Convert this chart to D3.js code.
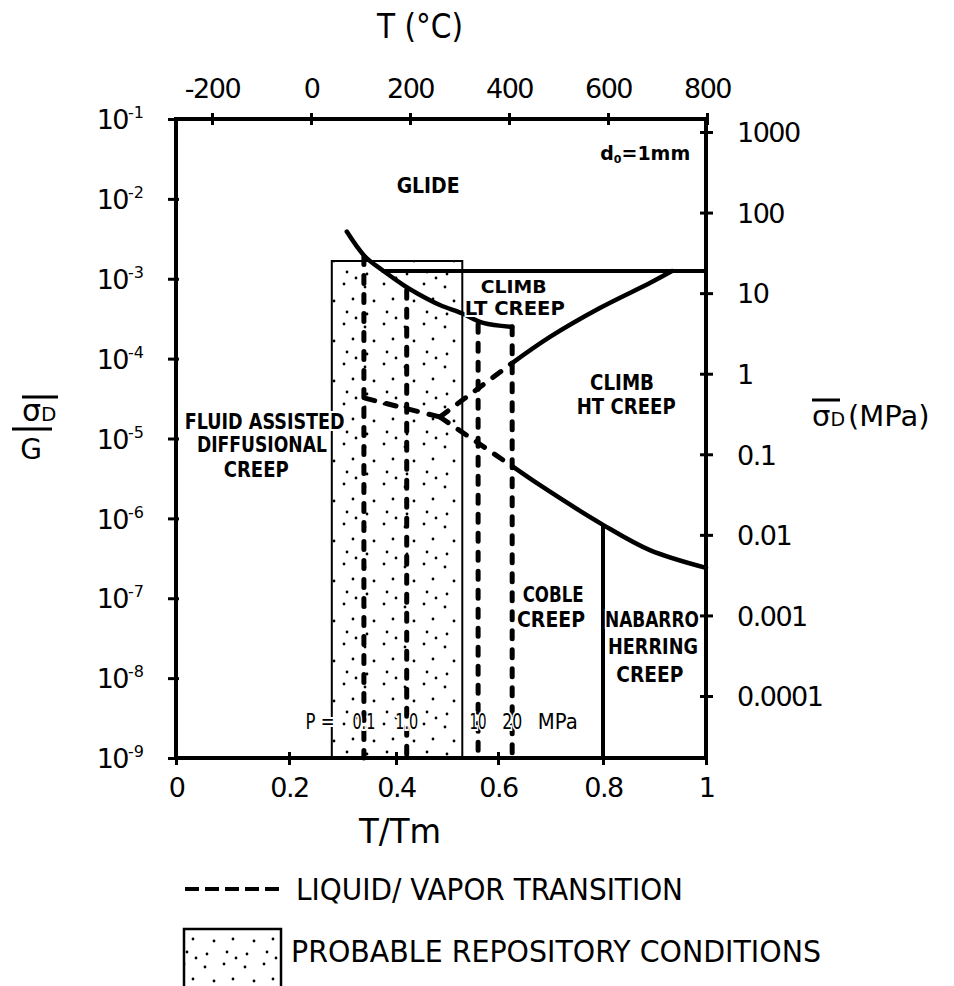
<!DOCTYPE html>
<html>
<head>
<meta charset="utf-8">
<script src="https://cdn.jsdelivr.net/npm/d3@7"></script>
<style>
  body { margin: 0; background: #fff; }
  svg text { font-family: "DejaVu Sans", sans-serif; fill: #000; }
</style>
</head>
<body>
<svg id="chart" width="954" height="986"></svg>
<script>
// axes: x = T/Tm, y = sigma_D / G (log)
const xTicks = [0, 0.2, 0.4, 0.6, 0.8, 1];
const xTickLabels = ["0", "0.2", "0.4", "0.6", "0.8", "1"];
const tempTicks = [-200, 0, 200, 400, 600, 800];
const yTicks = [1e-9, 1e-8, 1e-7, 1e-6, 1e-5, 1e-4, 1e-3, 1e-2, 1e-1];
const yExponents = ["-9", "-8", "-7", "-6", "-5", "-4", "-3", "-2", "-1"];
const mpaTicks = [1000, 100, 10, 1, 0.1, 0.01, 0.001, 0.0001];
const mpaLabels = ["1000", "100", "10", "1", "0.1", "0.01", "0.001", "0.0001"];

// field boundaries [T/Tm, sigma/G]
const glideCurve = [[0.308, 3.9e-3], [0.342, 1.9e-3], [0.376, 1.26e-3], [0.414, 8.4e-4],
  [0.441, 6.6e-4], [0.486, 4.7e-4], [0.529, 3.7e-4], [0.571, 2.8e-4], [0.627, 2.5e-4]];
const glideLimit = [[0.376, 1.25e-3], [1.0, 1.25e-3]];
const climbBoundary = [[0.627, 8.8e-5], [0.699, 1.87e-4], [0.794, 4.3e-4], [0.891, 8.85e-4], [0.934, 1.25e-3]];
const diffBoundary = [[0.627, 4.5e-6], [0.680, 2.6e-6], [0.8, 8.3e-7], [0.891, 4.0e-7], [1.0, 2.4e-7]];
const nhBoundary = [[0.8, 8.3e-7], [0.8, 1e-9]];
const fluidLeft = [[0.342, 3.2e-5], [0.486, 1.86e-5]];
const fluidUp = [[0.486, 1.86e-5], [0.627, 8.8e-5]];
const fluidDown = [[0.486, 1.86e-5], [0.627, 4.5e-6]];

// liquid/vapor transition at pressure P
const pressures = ["0.1", "1.0", "10", "20"];
const transitionX = [0.340, 0.421, 0.561, 0.627];
const transitionTop = [1.9e-3, 7.2e-4, 2.7e-4, 2.5e-4];

// probable repository conditions
const repositoryX = [0.28, 0.53];
const repositoryTop = 1.67e-3;

const labelText = ["GLIDE", "CLIMB", "LT CREEP", "CLIMB", "HT CREEP", "FLUID ASSISTED", "DIFFUSIONAL",
  "CREEP", "COBLE", "CREEP", "NABARRO", "HERRING", "CREEP"];
const labelTm = [0.463, 0.630, 0.632, 0.837, 0.845, 0.157, 0.152, 0.142, 0.705, 0.701, 0.895, 0.897, 0.891];
const labelStress = [1.19e-2, 6.6e-4, 3.5e-4, 4.0e-5, 2.0e-5, 1.31e-5, 6.8e-6, 3.3e-6,
  9.0e-8, 4.4e-8, 4.4e-8, 2.0e-8, 9.0e-9];

const svg = d3.select("#chart");

// hand drawn x axis is slightly uneven, so the scale follows the drawn ticks
const x = d3.scaleLinear().domain(xTicks).range([176, 289, 396, 498, 603, 706]);
const xTemp = d3.scaleLinear().domain([-200, 800]).range([212, 707]);
const y = d3.scaleLog().domain([1e-9, 1e-1]).range([758, 119]);
const yMpa = d3.scaleLog().domain([1e-4, 1e3]).range([696, 132]);

const defs = svg.append("defs");
const stipple = defs.append("pattern")
  .attr("id", "stipple")
  .attr("patternUnits", "userSpaceOnUse")
  .attr("width", 40).attr("height", 40);
[[5, 7], [24, 4], [14, 21], [33, 19], [7, 34], [27, 32], [36, 38]].forEach(p => {
  stipple.append("circle").attr("cx", p[0]).attr("cy", p[1]).attr("r", 1.4).attr("fill", "#000");
});

// repository box
const rx0 = x(repositoryX[0]), rx1 = x(repositoryX[1]);
const ry0 = y(repositoryTop), ry1 = y(1e-9);
svg.append("rect")
  .attr("x", rx0).attr("y", ry0)
  .attr("width", rx1 - rx0).attr("height", ry1 - ry0)
  .attr("fill", "url(#stipple)");
svg.append("path")
  .attr("d", `M${rx0},${ry1}V${ry0}H${rx1}V${ry1}`)
  .attr("fill", "none").attr("stroke", "#000").attr("stroke-width", 2);

const line = d3.line().x(d => x(d[0])).y(d => y(d[1]));
const smooth = d3.line().x(d => x(d[0])).y(d => y(d[1])).curve(d3.curveCatmullRom.alpha(0.5));

const plot = svg.append("g")
  .attr("fill", "none")
  .attr("stroke", "#000")
  .attr("stroke-linecap", "round");

// solid field boundaries
plot.append("path").attr("d", smooth(glideCurve)).attr("stroke-width", 4.5);
plot.append("path").attr("d", line(glideLimit)).attr("stroke-width", 4);
plot.append("path").attr("d", smooth(climbBoundary)).attr("stroke-width", 4.5);
plot.append("path").attr("d", smooth(diffBoundary)).attr("stroke-width", 4.5);
plot.append("path").attr("d", line(nhBoundary)).attr("stroke-width", 4).attr("stroke-linecap", "butt");

// dashed fluid assisted boundaries
[fluidLeft, fluidUp, fluidDown].forEach(seg => {
  plot.append("path").attr("d", line(seg))
    .attr("stroke-width", 5)
    .attr("stroke-dasharray", "10 12");
});

// vertical liquid/vapor transition lines
transitionX.forEach((tx, i) => {
  plot.append("path")
    .attr("d", line([[tx, transitionTop[i]], [tx, 1e-9]]))
    .attr("stroke-width", 5)
    .attr("stroke-dasharray", "8 11");
});

// frame
svg.append("rect")
  .attr("x", x(0)).attr("y", y(1e-1))
  .attr("width", x(1) - x(0)).attr("height", y(1e-9) - y(1e-1))
  .attr("fill", "none").attr("stroke", "#000").attr("stroke-width", 4);

const tidy = g => {
  g.select(".domain").remove();
  g.selectAll(".tick line").attr("stroke", "#000").attr("stroke-width", 3);
  g.selectAll(".tick text").attr("fill", "#000").style("font-size", "27px");
};

// bottom axis
svg.append("g")
  .attr("transform", `translate(0,${y(1e-9)})`)
  .call(d3.axisBottom(x).tickValues(xTicks).tickFormat((d, i) => xTickLabels[i]).tickSize(7))
  .call(tidy)
  .call(g => {
    g.selectAll(".tick line").attr("y1", -6);
    g.selectAll(".tick text").attr("y", 39).attr("dy", null).attr("letter-spacing", -1.5);
  });

// top axis, degrees C
svg.append("g")
  .attr("transform", `translate(0,${y(1e-1)})`)
  .call(d3.axisTop(xTemp).tickValues(tempTicks).tickFormat(d3.format("d")).tickSize(6))
  .call(tidy)
  .call(g => {
    g.selectAll(".tick line").attr("y1", 6);
    g.selectAll(".tick text").attr("y", -21).attr("dy", null).attr("letter-spacing", -1.5)
      .text(d => d < 0 ? "-" + Math.abs(d) : d);
  });

// left axis, sigma/G
svg.append("g")
  .attr("transform", `translate(${x(0)},0)`)
  .call(d3.axisLeft(y).tickValues(yTicks).tickFormat("").tickSize(8))
  .call(tidy)
  .call(g => {
    g.selectAll(".tick line").attr("x1", 3);
    g.selectAll(".tick text")
      .attr("x", -32).attr("dy", "0.36em").attr("text-anchor", "end")
      .attr("letter-spacing", -1.5)
      .each(function(d, i) {
        const t = d3.select(this);
        t.text("10");
        t.append("tspan").attr("dy", -11).style("font-size", "16px").attr("letter-spacing", 0)
          .text(yExponents[i]);
      });
  });

// right axis, MPa
svg.append("g")
  .attr("transform", `translate(${x(1)},0)`)
  .call(d3.axisRight(yMpa).tickValues(mpaTicks).tickFormat((d, i) => mpaLabels[i]).tickSize(7))
  .call(tidy)
  .call(g => {
    g.selectAll(".tick line").attr("x1", -6);
    g.selectAll(".tick text").attr("x", 31).attr("dy", "0.36em").attr("letter-spacing", -1.5);
  });

// axis titles
svg.append("text").attr("x", 420).attr("y", 38).attr("text-anchor", "middle")
  .style("font-size", "34px").attr("textLength", 86).attr("lengthAdjust", "spacingAndGlyphs")
  .text("T (°C)");
svg.append("text").attr("x", 400).attr("y", 843).attr("text-anchor", "middle")
  .style("font-size", "34px").attr("textLength", 82).attr("lengthAdjust", "spacingAndGlyphs")
  .text("T/Tm");

// left title sigma_D / G
const lt = svg.append("g");
lt.append("text").attr("x", 22).attr("y", 421).style("font-size", "30px").text("σ")
  .append("tspan").style("font-size", "20px").text("D");
lt.append("line").attr("x1", 22).attr("x2", 58).attr("y1", 397).attr("y2", 397)
  .attr("stroke", "#000").attr("stroke-width", 3);
lt.append("line").attr("x1", 12).attr("x2", 52).attr("y1", 429).attr("y2", 429)
  .attr("stroke", "#000").attr("stroke-width", 3);
lt.append("text").attr("x", 31).attr("y", 459).attr("text-anchor", "middle")
  .style("font-size", "28px").text("G");

// right title sigma_D (MPa)
const rt = svg.append("g");
rt.append("text").attr("x", 812).attr("y", 426).style("font-size", "29px")
  .text("σ")
  .append("tspan").style("font-size", "19px").text("D")
  .append("tspan").style("font-size", "29px").attr("dx", 3).text("(MPa)");
rt.append("line").attr("x1", 812).attr("x2", 840).attr("y1", 400).attr("y2", 400)
  .attr("stroke", "#000").attr("stroke-width", 3);

// field labels
const labelLayout = [[21, 63], [18, 66], [19, 100], [21, 64], [21, 99], [21, 160], [21, 130], [21, 65],
  [21, 61], [21, 68], [21, 94], [21, 90], [21, 67]];
svg.append("g").selectAll("text")
  .data(labelText)
  .join("text")
  .attr("x", (d, i) => x(labelTm[i]))
  .attr("y", (d, i) => y(labelStress[i]))
  .attr("text-anchor", "middle")
  .style("font-size", (d, i) => labelLayout[i][0] + "px")
  .style("font-weight", "bold")
  .attr("textLength", (d, i) => labelLayout[i][1])
  .attr("lengthAdjust", "spacingAndGlyphs")
  .attr("stroke", "#fff").attr("stroke-width", 4).attr("paint-order", "stroke")
  .text(d => d);

// grain size note
svg.append("text")
  .attr("x", x(0.882)).attr("y", y(3.07e-2))
  .attr("text-anchor", "middle")
  .style("font-size", "19px").style("font-weight", "bold")
  .text("d")
  .append("tspan").style("font-size", "11px").attr("dy", 3).text("0")
  .append("tspan").style("font-size", "19px").attr("dy", -3).text("=1mm");

// pressure row
const pRow = 2.3e-9;
const pText = ["P =", ...pressures, "MPa"];
const pTm = [0.258, ...transitionX, 0.714];
const pWidth = [29, 23, 23, 17, 20, 40];
svg.append("g").selectAll("text")
  .data(pText)
  .join("text")
  .attr("x", (d, i) => x(pTm[i]))
  .attr("y", y(pRow))
  .attr("text-anchor", "middle")
  .style("font-size", "22px")
  .attr("textLength", (d, i) => pWidth[i])
  .attr("lengthAdjust", "spacingAndGlyphs")
  .attr("stroke", "#fff").attr("stroke-width", 4).attr("paint-order", "stroke")
  .text(d => d);

// legend
const legend = svg.append("g");
legend.append("line")
  .attr("x1", 185).attr("x2", 282).attr("y1", 889).attr("y2", 889)
  .attr("stroke", "#000").attr("stroke-width", 4)
  .attr("stroke-dasharray", "14 6");
legend.append("text").attr("x", 296).attr("y", 900)
  .style("font-size", "30px").attr("textLength", 387).attr("lengthAdjust", "spacingAndGlyphs")
  .text("LIQUID/ VAPOR  TRANSITION");
legend.append("rect")
  .attr("x", 184).attr("y", 929).attr("width", 97).attr("height", 70)
  .attr("fill", "url(#stipple)")
  .attr("stroke", "#000").attr("stroke-width", 2.5);
legend.append("text").attr("x", 291).attr("y", 962)
  .style("font-size", "30px").attr("textLength", 530).attr("lengthAdjust", "spacingAndGlyphs")
  .text("PROBABLE  REPOSITORY  CONDITIONS");
</script>
</body>
</html>
